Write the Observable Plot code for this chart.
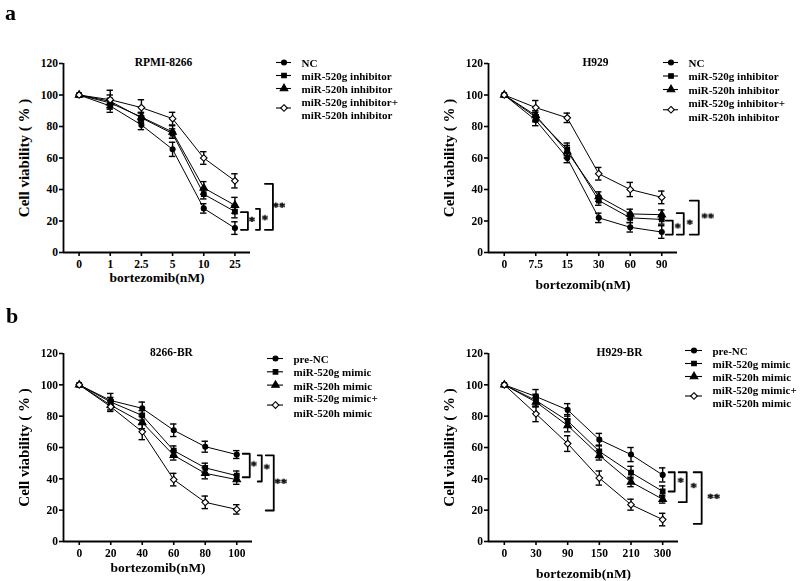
<!DOCTYPE html>
<html><head><meta charset="utf-8">
<script src="https://cdn.jsdelivr.net/npm/d3@7"></script>
<script src="https://cdn.jsdelivr.net/npm/@observablehq/plot@0.6"></script>
<style>
body{margin:0;background:#fff;}
#fig{position:relative;width:800px;height:581px;overflow:hidden;background:#fff;font-family:"Liberation Serif","Times New Roman",serif;color:#000;}
.panel{position:absolute;width:400px;height:290px;}
.panel svg{position:absolute;left:0;top:0;overflow:visible;}
.tag{position:absolute;font-weight:bold;font-size:22px;line-height:1;}
.stars text{will-change:transform;}
</style></head><body><div id="fig"></div>
<script>
// ---------- data ----------
const yTicks = [0, 20, 40, 60, 80, 100, 120];
const yLabel = "Cell viability ( % )";
const xLabel = "bortezomib(nM)";

// a: RPMI-8266
const rpmiDoses = ["0", "1", "2.5", "5", "10", "25"];
const rpmiNames = ["NC", "miR-520g inhibitor", "miR-520h inhibitor", "miR-520g inhibitor+\nmiR-520h inhibitor"];
const rpmiNC    = [100, 93, 81, 65.5, 28, 15.5];
const rpmiNCsd  = [0, 4, 3, 4.5, 3, 4];
const rpmi520g  = [100, 96, 85.5, 75.5, 37, 26];
const rpmi520gSd= [0, 4, 3, 3, 3, 4];
const rpmi520h  = [100, 95, 86, 76.5, 41, 30];
const rpmi520hSd= [0, 3, 3, 4, 4, 5];
const rpmiCombo = [100, 97, 92, 85, 60, 45.5];
const rpmiComboSd=[0, 6, 5, 4, 4, 4.5];
const rpmiBrackets = [{top: 25.6, bottom: 14.4, label: "*"}, {top: 27.7, bottom: 14.4, label: "*"}, {top: 43.6, bottom: 14.4, label: "**"}];

// a: H929
const h929Doses = ["0", "7.5", "15", "30", "60", "90"];
const h929Names = rpmiNames;
const h929NC    = [100, 84, 60, 22, 16, 13];
const h929NCsd  = [0, 3.5, 3, 3, 3, 4];
const h929520g  = [100, 86, 65.5, 33, 22, 21];
const h929520gSd= [0, 3, 4, 3, 3, 3];
const h929520h  = [100, 87, 64, 35.5, 24.5, 24];
const h929520hSd= [0, 3, 4, 3, 3, 3];
const h929Combo = [100, 92, 85.5, 50, 40, 35];
const h929ComboSd=[0, 4.5, 3, 4, 4.5, 4];
const h929Brackets = [{top: 20.3, bottom: 11.4, label: "*"}, {top: 25, bottom: 11.4, label: "*"}, {top: 33, bottom: 11.4, label: "**"}];

// b: 8266-BR
const br8266Doses = ["0", "20", "40", "60", "80", "100"];
const mimicNames = ["pre-NC", "miR-520g mimic", "miR-520h mimic", "miR-520g mimic+\nmiR-520h mimic"];
const br8266NC    = [100, 90, 85, 71, 60.5, 55.5];
const br8266NCsd  = [0, 4.5, 4, 4, 3.5, 2.5];
const br8266520g  = [100, 89, 80.5, 58, 47, 42];
const br8266520gSd= [0, 3, 3, 3, 3, 3];
const br8266520h  = [100, 87, 76, 55, 43.5, 39.5];
const br8266520hSd= [0, 3, 4, 3, 3.5, 3];
const br8266Combo = [100, 86, 70, 39.5, 25, 20.5];
const br8266ComboSd=[0, 3, 5, 4, 4, 3];
const br8266Brackets = [{top: 56, bottom: 41, label: "*"}, {top: 55, bottom: 38.3, label: "*"}, {top: 55, bottom: 19.8, label: "**"}];

// b: H929-BR
const brH929Doses = ["0", "30", "90", "150", "210", "300"];
const brH929NC    = [100, 92.5, 84, 65, 55.5, 42.5];
const brH929NCsd  = [0, 4.5, 4, 4, 4.5, 4.5];
const brH929520g  = [100, 90, 77, 57.5, 44, 32];
const brH929520gSd= [0, 4, 4, 4, 4, 3.5];
const brH929520h  = [100, 89, 74, 55, 38, 27];
const brH929520hSd= [0, 3, 4, 3, 3, 2.5];
const brH929Combo = [100, 81.5, 62.5, 40.5, 23.5, 14];
const brH929ComboSd=[0, 5, 5, 4.5, 3.5, 4];
const brH929Brackets = [{top: 44.2, bottom: 31.9, label: "*"}, {top: 44.2, bottom: 25.1, label: "*"}, {top: 44.2, bottom: 11.3, label: "**"}];

// ---------- styling / layout ----------
const FONT = '"Liberation Serif","Times New Roman",serif';
const markers = [
  {symbol: "circle", fill: "black", size: 2.5},
  {symbol: "square", fill: "black", size: 2.6},
  {symbol: "triangle", fill: "black", size: 2.8},
  {symbol: "diamond2", fill: "white", size: 3}
];

function makeSeries(names, vals, sds) {
  return names.map((n, k) => ({name: n, values: vals[k], sd: sds[k], ...markers[k]}));
}

const panels = [
  {left: 0, top: 0, mL: 63, mR: 150, mT: 63, mB: 38, title: "RPMI-8266", titleDx: 6.5, xLabDy: 25,
   doses: rpmiDoses, series: makeSeries(rpmiNames, [rpmiNC, rpmi520g, rpmi520h, rpmiCombo], [rpmiNCsd, rpmi520gSd, rpmi520hSd, rpmiComboSd]),
   brackets: rpmiBrackets, bx: [[6, 13], [21, 25], [30, 38]], sx: [17, 30, 44],
   leg: {x0: 276, x1: 291, row0: 62, step: 13, dx: 10, lh: 1.18}},
  {left: 400, top: 0, mL: 88, mR: 123, mT: 63, mB: 38, title: "H929", titleDx: 12.5, xLabDy: 32,
   doses: h929Doses, series: makeSeries(h929Names, [h929NC, h929520g, h929520h, h929Combo], [h929NCsd, h929520gSd, h929520hSd, h929ComboSd]),
   brackets: h929Brackets, bx: [[4, 11], [15, 22], [28, 37]], sx: [16, 28, 46],
   leg: {x0: 263, x1: 278, row0: 62, step: 13.5, dx: 10, lh: 1.27}},
  {left: 0, top: 290, mL: 63, mR: 148, mT: 63, mB: 39, title: "8266-BR", titleDx: 13.5, xLabDy: 26,
   doses: br8266Doses, series: makeSeries(mimicNames, [br8266NC, br8266520g, br8266520h, br8266Combo], [br8266NCsd, br8266520gSd, br8266520hSd, br8266ComboSd]),
   brackets: br8266Brackets, bx: [[6, 13], [21, 25], [29, 37]], sx: [17, 30, 44],
   leg: {x0: 267, x1: 283, row0: 68, step: 13.3, dx: 10, lh: 1.3}},
  {left: 400, top: 290, mL: 88, mR: 122, mT: 63, mB: 39, title: "H929-BR", titleDx: 36, xLabDy: 32,
   doses: brH929Doses, series: makeSeries(mimicNames, [brH929NC, brH929520g, brH929520h, brH929Combo], [brH929NCsd, brH929520gSd, brH929520hSd, brH929ComboSd]),
   brackets: brH929Brackets, bx: [[6, 12], [16, 24], [31, 39]], sx: [18, 31, 51],
   leg: {x0: 285, x1: 302, row0: 60, step: 13, dx: 10, lh: 1.27}}
];

const fig = document.getElementById("fig");

for (const p of panels) {
  const W = 400, H = 290;
  const n = p.doses.length;
  const step = (W - p.mL - p.mR) / n; // px per x unit
  const u = px => px / step;
  const last = n - 1;

  const rows = p.series.flatMap(s => s.values.map((v, i) => ({s: s.name, i, v, e: s.sd[i]})));
  const cap = u(3.2);

  const bracketPts = p.brackets.flatMap((b, k) => {
    const xi = last + u(p.bx[k][0]), xo = last + u(p.bx[k][1]);
    return [{k, x: xi, y: b.top}, {k, x: xo, y: b.top}, {k, x: xo, y: b.bottom}, {k, x: xi, y: b.bottom}];
  });
  const stars = p.brackets.map((b, k) => ({x: last + u(p.sx[k]), y: (b.top + b.bottom) / 2, label: b.label}));

  const marks = [
    Plot.ruleY([0], {strokeWidth: 1.8}),
    Plot.ruleX([-0.5], {strokeWidth: 1.8}),
    Plot.axisY({ticks: yTicks, tickSize: 4, tickPadding: 1.5, strokeWidth: 1.6, fontSize: 11.5, fontWeight: "bold"}),
    Plot.axisX({ticks: d3.range(n), tickFormat: i => p.doses[i], tickSize: 4, tickPadding: 3, strokeWidth: 1.6, fontSize: 11.5, fontWeight: "bold"}),
    Plot.line(rows, {x: "i", y: "v", z: "s", stroke: "black", strokeWidth: 1}),
    Plot.ruleX(rows.filter(d => d.e > 0), {x: "i", y1: d => d.v - d.e, y2: d => d.v + d.e, strokeWidth: 1.4}),
    Plot.ruleY(rows.filter(d => d.e > 0), {y: d => d.v + d.e, x1: d => d.i - cap, x2: d => d.i + cap, strokeWidth: 1.4}),
    Plot.ruleY(rows.filter(d => d.e > 0), {y: d => d.v - d.e, x1: d => d.i - cap, x2: d => d.i + cap, strokeWidth: 1.4}),
    ...p.series.map(s => Plot.dot(rows.filter(d => d.s === s.name), {x: "i", y: "v", symbol: s.symbol, fill: s.fill, stroke: "black", strokeWidth: 1.1, r: s.size})),
    Plot.line(bracketPts, {x: "x", y: "y", z: "k", stroke: "black", strokeWidth: 1.8}),
    Plot.text(stars, {x: "x", y: "y", text: "label", rotate: 0.6, className: "stars", fontSize: 13, fontWeight: "bold", textAnchor: "middle", lineAnchor: "middle", fill: "black", stroke: "black", strokeWidth: 0.4}),
    Plot.text([p.title], {text: d => d, frameAnchor: "top", dx: p.titleDx, dy: -1, textAnchor: "middle", lineAnchor: "middle", fontSize: 11.5, fontWeight: "bold"}),
    Plot.text([xLabel], {text: d => d, frameAnchor: "bottom", dy: p.xLabDy, textAnchor: "middle", lineAnchor: "middle", fontSize: 13.5, fontWeight: "bold"}),
    Plot.text([yLabel], {text: d => d, frameAnchor: "left", rotate: -90, dx: -39, textAnchor: "middle", lineAnchor: "middle", fontSize: 15, fontWeight: "bold"})
  ];

  const chart = Plot.plot({
    width: W, height: H,
    marginLeft: p.mL, marginRight: p.mR, marginTop: p.mT, marginBottom: p.mB,
    x: {type: "linear", domain: [-0.5, n - 0.5], axis: null},
    y: {type: "linear", domain: [0, 120], axis: null},
    style: {fontFamily: FONT, fontWeight: "bold", fontSize: "11.5px", color: "black", background: "transparent", overflow: "visible"},
    marks
  });

  // legend
  const L = p.leg;
  const legRows = p.series.map((s, i) => ({...s, row: i + (s.name.includes("\n") ? 0.5 : 0)}));
  const legend = Plot.plot({
    width: W, height: H, margin: 0,
    x: {type: "linear", domain: [0, 1], range: [L.x0, L.x1], axis: null},
    y: {type: "linear", domain: [0, 1], range: [L.row0, L.row0 + L.step], axis: null},
    style: {fontFamily: FONT, fontWeight: "bold", fontSize: "11px", color: "black", background: "transparent", overflow: "visible"},
    marks: [
      Plot.ruleY(legRows, {y: "row", x1: 0, x2: 1, stroke: "black", strokeWidth: 1.1}),
      ...legRows.map(s => Plot.dot([s], {x: 0.5, y: "row", symbol: s.symbol, fill: s.fill, stroke: "black", strokeWidth: 1.1, r: s.size})),
      Plot.text(legRows, {x: 1, y: "row", text: "name", dx: L.dx, textAnchor: "start", lineAnchor: "middle", lineHeight: L.lh, fontSize: 11, fontWeight: "bold"})
    ]
  });

  const div = document.createElement("div");
  div.className = "panel";
  div.style.left = p.left + "px";
  div.style.top = p.top + "px";
  div.appendChild(chart);
  div.appendChild(legend);
  fig.appendChild(div);
}

const tagA = document.createElement("div");
tagA.className = "tag"; tagA.textContent = "a"; tagA.style.left = "5px"; tagA.style.top = "2px";
const tagB = document.createElement("div");
tagB.className = "tag"; tagB.textContent = "b"; tagB.style.left = "6px"; tagB.style.top = "305px";
fig.appendChild(tagA); fig.appendChild(tagB);
</script>
</body></html>
